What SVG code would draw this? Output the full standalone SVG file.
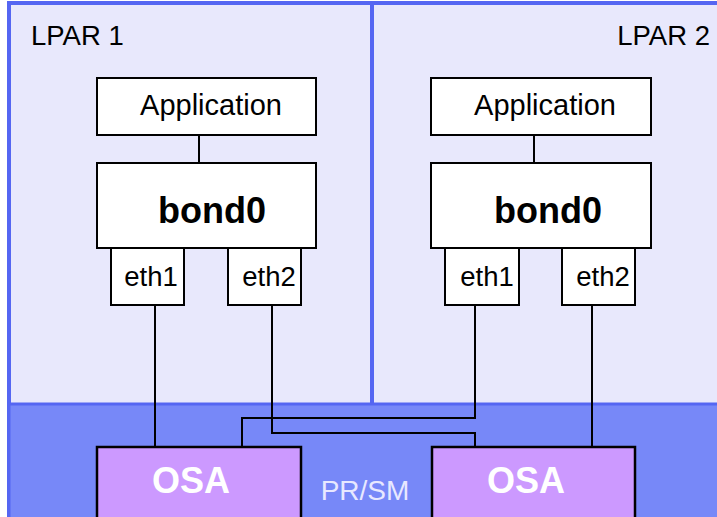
<svg xmlns="http://www.w3.org/2000/svg" width="717" height="517" viewBox="0 0 717 517">
<style>
  .box { fill: #ffffff; stroke: #000000; stroke-width: 2; }
  .osa { fill: #cc99ff; stroke: #000000; stroke-width: 2.5; }
  .wire { fill: none; stroke: #000000; stroke-width: 2; }
  .t { font-family: "Liberation Sans", Arial, sans-serif; fill: #000000; }
  .lbl { font-size: 27.5px; }
  .app { font-size: 29px; text-anchor: middle; }
  .bond { font-size: 36px; font-weight: bold; text-anchor: middle; }
  .eth { font-size: 27.5px; text-anchor: middle; }
  .osat { font-size: 36px; font-weight: bold; fill: #ffffff; text-anchor: middle; }
</style>
<rect x="0" y="0" width="717" height="517" fill="#ffffff"/>
<g id="lpar-area">
  <rect x="9" y="3" width="720" height="530" fill="#e8e8fc" stroke="#5566f2" stroke-width="4"/>
  <line x1="372" y1="3" x2="372" y2="404" stroke="#5566f2" stroke-width="4"/>
  <text class="t lbl" x="31" y="45">LPAR 1</text>
  <text class="t lbl" x="710" y="45" text-anchor="end">LPAR 2</text>
</g>
<g id="prsm">
  <rect x="9" y="404" width="720" height="130" fill="#7788f8" stroke="#5566f2" stroke-width="3"/>
  <text class="t" x="365" y="500" font-size="28" text-anchor="middle" style="fill:#e8e8ff">PR/SM</text>
</g>
<g id="connectors">
  <line class="wire" x1="199" y1="135" x2="199" y2="163"/>
  <line class="wire" x1="534" y1="135" x2="534" y2="163"/>
  <polyline class="wire" points="155,305 155,447"/>
  <polyline class="wire" points="272,305 272,433 475,433 475,447"/>
  <polyline class="wire" points="475,305 475,418 242,418 242,447"/>
  <polyline class="wire" points="592,305 592,447"/>
</g>
<g id="app1">
  <rect class="box" x="97" y="78" width="219" height="57"/>
  <text class="t app" x="211" y="115">Application</text>
</g>
<g id="bond1">
  <rect class="box" x="97" y="163" width="219" height="85"/>
  <text class="t bond" x="212" y="223">bond0</text>
</g>
<g id="eth1-1">
  <rect class="box" x="111" y="248" width="73" height="57"/>
  <text class="t eth" x="151" y="286">eth1</text>
</g>
<g id="eth2-1">
  <rect class="box" x="228" y="248" width="73" height="57"/>
  <text class="t eth" x="269" y="286">eth2</text>
</g>
<g id="app2">
  <rect class="box" x="431" y="78" width="220" height="57"/>
  <text class="t app" x="545" y="115">Application</text>
</g>
<g id="bond2">
  <rect class="box" x="431" y="163" width="220" height="85"/>
  <text class="t bond" x="548" y="223">bond0</text>
</g>
<g id="eth1-2">
  <rect class="box" x="445" y="248" width="74" height="57"/>
  <text class="t eth" x="487" y="286">eth1</text>
</g>
<g id="eth2-2">
  <rect class="box" x="562" y="248" width="73" height="57"/>
  <text class="t eth" x="603" y="286">eth2</text>
</g>
<g id="osa1">
  <rect class="osa" x="97" y="447" width="204" height="80"/>
  <text class="t osat" x="191" y="493">OSA</text>
</g>
<g id="osa2">
  <rect class="osa" x="432" y="447" width="203" height="80"/>
  <text class="t osat" x="526" y="493">OSA</text>
</g>
</svg>
